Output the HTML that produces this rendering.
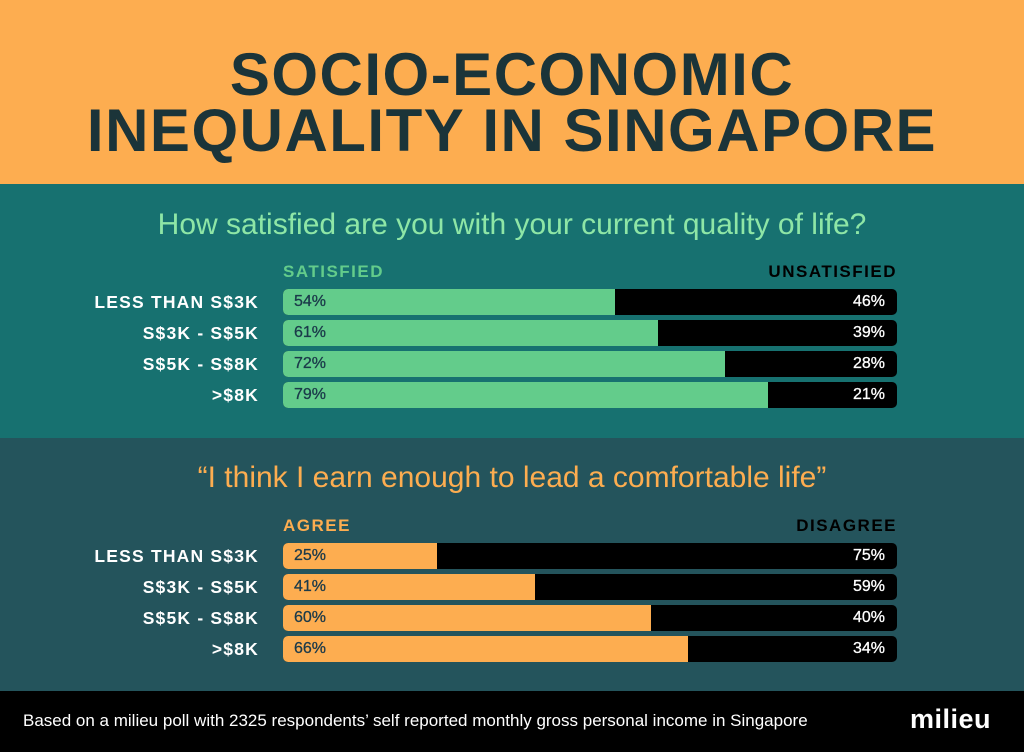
<!DOCTYPE html><html><head><style>
body{margin:0;width:1024px;height:752px;position:relative;font-family:"Liberation Sans",sans-serif;overflow:hidden}
.s{position:absolute;left:0;width:1024px}
.t{position:absolute;left:0;width:1024px;text-align:center;font-weight:900;font-size:60px;color:#1b3439;letter-spacing:1.5px;line-height:1}
.q{position:absolute;left:0;width:1024px;text-align:center;font-size:30px}
.lab{position:absolute;right:765px;width:260px;text-align:right;color:#fff;font-weight:bold;font-size:17.5px;letter-spacing:1.2px}
.bar{position:absolute;left:283px;width:614px;height:26px;border-radius:5px;background:#000;overflow:hidden;font-size:16px}
.bar i{position:absolute;left:0;top:0;bottom:0}
.bar b{position:absolute;top:4px;font-weight:normal;-webkit-text-stroke:0.3px currentColor}
.hd{position:absolute;font-weight:bold;font-size:17px;letter-spacing:1.5px}
</style></head><body>
<div class="s" style="top:0;height:184px;background:#fdad50"></div>
<div class="s" style="top:184px;height:254px;background:#177170"></div>
<div class="s" style="top:438px;height:253px;background:#24545c"></div>
<div class="s" style="top:691px;height:61px;background:#000"></div>
<div class="t" style="top:45px">SOCIO-ECONOMIC</div>
<div class="t" style="top:101px">INEQUALITY IN SINGAPORE</div>
<div class="q" style="top:208px;color:#8ee6a6">How satisfied are you with your current quality of life?</div>
<div class="q" style="top:461px;color:#fdad50">“I think I earn enough to lead a comfortable life”</div>
<div class="hd" style="left:283px;top:262px;color:#63cc8b">SATISFIED</div>
<div class="hd" style="right:127px;top:262px;color:#000">UNSATISFIED</div>
<div class="hd" style="left:283px;top:516px;color:#fdad50">AGREE</div>
<div class="hd" style="right:127px;top:516px;color:#000">DISAGREE</div>

<div class="lab" style="top:292px">LESS THAN S$3K</div>
<div class="lab" style="top:323px">S$3K - S$5K</div>
<div class="lab" style="top:354px">S$5K - S$8K</div>
<div class="lab" style="top:385px">&gt;$8K</div>
<div class="lab" style="top:546px">LESS THAN S$3K</div>
<div class="lab" style="top:577px">S$3K - S$5K</div>
<div class="lab" style="top:608px">S$5K - S$8K</div>
<div class="lab" style="top:639px">&gt;$8K</div>

<div class="bar" style="top:289px"><i style="width:54%;background:#63cc8b"></i><b style="left:11px;color:#1b3a4a">54%</b><b style="right:12px;color:#fff">46%</b></div>
<div class="bar" style="top:320px"><i style="width:61%;background:#63cc8b"></i><b style="left:11px;color:#1b3a4a">61%</b><b style="right:12px;color:#fff">39%</b></div>
<div class="bar" style="top:351px"><i style="width:72%;background:#63cc8b"></i><b style="left:11px;color:#1b3a4a">72%</b><b style="right:12px;color:#fff">28%</b></div>
<div class="bar" style="top:382px"><i style="width:79%;background:#63cc8b"></i><b style="left:11px;color:#1b3a4a">79%</b><b style="right:12px;color:#fff">21%</b></div>

<div class="bar" style="top:543px"><i style="width:25%;background:#fdad50"></i><b style="left:11px;color:#1b3a4a">25%</b><b style="right:12px;color:#fff">75%</b></div>
<div class="bar" style="top:574px"><i style="width:41%;background:#fdad50"></i><b style="left:11px;color:#1b3a4a">41%</b><b style="right:12px;color:#fff">59%</b></div>
<div class="bar" style="top:605px"><i style="width:60%;background:#fdad50"></i><b style="left:11px;color:#1b3a4a">60%</b><b style="right:12px;color:#fff">40%</b></div>
<div class="bar" style="top:636px"><i style="width:66%;background:#fdad50"></i><b style="left:11px;color:#1b3a4a">66%</b><b style="right:12px;color:#fff">34%</b></div>

<div style="position:absolute;left:23px;top:711px;color:#fff;font-size:17px">Based on a milieu poll with 2325 respondents’ self reported monthly gross personal income in Singapore</div>
<div style="position:absolute;left:910px;top:704px;color:#fff;font-size:27px;font-weight:bold;letter-spacing:0.5px">milieu</div>
</body></html>
